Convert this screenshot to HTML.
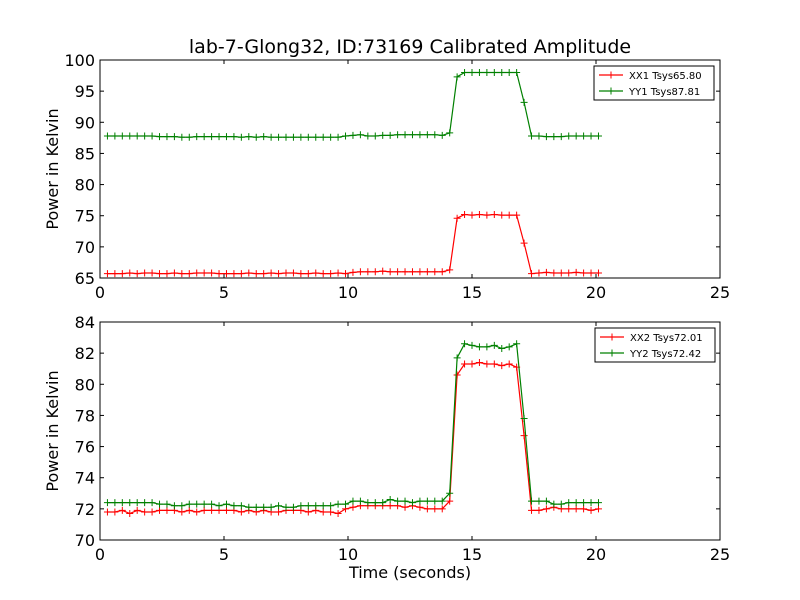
<!DOCTYPE html>
<html><head><meta charset="utf-8"><style>
body{margin:0;background:#fff;}
svg{display:block;font-family:"DejaVu Sans","Liberation Sans",sans-serif;}
</style></head><body>
<svg id="chart" width="800" height="600" viewBox="0 0 800 600">
<rect width="800" height="600" fill="#fff"/>
<text x="410" y="53" font-size="19" text-anchor="middle">lab-7-Glong32, ID:73169 Calibrated Amplitude</text>
<g id="top"></g>
<g id="bot"></g>
<text x="410" y="578" font-size="16" text-anchor="middle">Time (seconds)</text>
</svg>
<script>
const xx1=[65.7,65.7,65.7,65.8,65.7,65.8,65.8,65.7,65.7,65.8,65.7,65.7,65.8,65.8,65.8,65.7,65.7,65.7,65.7,65.8,65.7,65.7,65.8,65.7,65.8,65.8,65.7,65.7,65.8,65.7,65.7,65.8,65.7,65.9,66.0,66.0,66.0,66.1,66.0,66.0,66.0,66.0,66.0,66.0,66.0,66.0,66.3,74.6,75.2,75.1,75.2,75.1,75.2,75.1,75.1,75.1,70.6,65.7,65.8,65.9,65.8,65.8,65.8,65.9,65.8,65.8,65.8];
const yy1=[87.8,87.8,87.8,87.8,87.8,87.8,87.8,87.7,87.7,87.7,87.6,87.6,87.7,87.7,87.7,87.7,87.7,87.7,87.6,87.7,87.6,87.7,87.6,87.6,87.6,87.6,87.6,87.6,87.6,87.6,87.6,87.6,87.8,87.9,88.0,87.8,87.8,87.9,87.9,88.0,88.0,88.0,88.0,88.0,88.0,87.9,88.3,97.3,98.0,98.0,98.0,98.0,98.0,98.0,98.0,98.0,93.2,87.8,87.8,87.7,87.7,87.7,87.8,87.8,87.8,87.8,87.8];
const xx2=[71.8,71.8,71.9,71.7,71.9,71.8,71.8,71.9,71.9,71.9,71.8,71.9,71.8,71.9,71.9,71.9,71.9,71.9,71.8,71.9,71.8,71.9,71.8,71.8,71.9,71.9,71.9,71.8,71.9,71.8,71.8,71.7,72.0,72.1,72.2,72.2,72.2,72.2,72.2,72.2,72.1,72.2,72.1,72.0,72.0,72.0,72.5,80.6,81.3,81.3,81.4,81.3,81.3,81.2,81.3,81.1,76.7,71.9,71.9,72.0,72.1,72.0,72.0,72.0,72.0,71.9,72.0];
const yy2=[72.4,72.4,72.4,72.4,72.4,72.4,72.4,72.3,72.3,72.2,72.2,72.3,72.3,72.3,72.3,72.2,72.3,72.2,72.2,72.1,72.1,72.1,72.1,72.2,72.1,72.1,72.2,72.2,72.2,72.2,72.2,72.3,72.3,72.5,72.5,72.4,72.4,72.4,72.6,72.5,72.5,72.4,72.5,72.5,72.5,72.5,73.0,81.7,82.6,82.5,82.4,82.4,82.5,82.3,82.4,82.6,77.8,72.5,72.5,72.5,72.3,72.3,72.4,72.4,72.4,72.4,72.4];
const xTicks=[0,5,10,15,20,25];
const topTicks=[65,70,75,80,85,90,95,100];
const botTicks=[70,72,74,76,78,80,82,84];
const times=xx1.map((_,i)=>+(0.3+0.3*i).toFixed(2));
const NS="http://www.w3.org/2000/svg";
function el(t,a,p){const e=document.createElementNS(NS,t);for(const k in a)e.setAttribute(k,a[k]);p.appendChild(e);return e;}
function panel(g,y0,y1,ymin,ymax,yt,series,legend,lx,ly){
  const x0=100,x1=720;
  const sx=v=>x0+(v/25)*(x1-x0), sy=v=>y1-(v-ymin)/(ymax-ymin)*(y1-y0);
  xTicks.forEach(t=>{const x=sx(t);
    el('line',{x1:x,x2:x,y1:y1,y2:y1-4,stroke:'#000'},g);el('line',{x1:x,x2:x,y1:y0,y2:y0+4,stroke:'#000'},g);
    const tx=el('text',{x:x,y:y1+20,'font-size':16,'text-anchor':'middle'},g);tx.textContent=t;
    
    });
  yt.forEach(t=>{const y=sy(t);
    el('line',{x1:x0,x2:x0+4,y1:y,y2:y,stroke:'#000'},g);el('line',{x1:x1,x2:x1-4,y1:y,y2:y,stroke:'#000'},g);
    const tx=el('text',{x:x0-5,y:y+6,'font-size':16,'text-anchor':'end'},g);tx.textContent=t;
    
    });
  const yl=el('text',{x:0,y:0,'font-size':16,'text-anchor':'middle',transform:`translate(58,${(y0+y1)/2}) rotate(-90)`},g);
  yl.textContent='Power in Kelvin';
  
  
  series.forEach(s=>{
    const pts=s.v.map((v,i)=>sx(times[i]).toFixed(1)+','+sy(v).toFixed(1)).join(' ');
    const pl=el('polyline',{points:pts,fill:'none',stroke:s.c,'stroke-width':1.2},g);
    
    
    s.v.forEach((v,i)=>{const x=sx(times[i]),y=sy(v);
      const m=el('path',{d:`M${x-3.5},${y}h7M${x},${y-3.5}v7`,stroke:s.c,'stroke-width':1},g);
      
      });
  });
  const fr=el('rect',{x:x0,y:y0,width:x1-x0,height:y1-y0,fill:'none',stroke:'#000','stroke-width':1},g);
  
  
  const lg=el('g',{},g);
  
  
  el('rect',{x:lx,y:ly,width:120,height:34,fill:'#fff',stroke:'#000'},lg);
  legend.forEach((l,i)=>{const y=ly+9+i*16;
    el('line',{x1:lx+5,x2:lx+29,y1:y,y2:y,stroke:l.c,'stroke-width':1.2},lg);
    el('path',{d:`M${lx+13.5},${y}h7M${lx+17},${y-3.5}v7`,stroke:l.c},lg);
    const t=el('text',{x:lx+35,y:y+4,'font-size':10},lg);t.textContent=l.t;
    
    });
}
panel(document.getElementById('top'),60,278,65,100,topTicks,
 [{v:xx1,c:'#ff0000',n:'xx1'},{v:yy1,c:'#008000',n:'yy1'}],
 [{t:'XX1 Tsys65.80',c:'#ff0000'},{t:'YY1 Tsys87.81',c:'#008000'}],594,66);
panel(document.getElementById('bot'),322,540,70,84,botTicks,
 [{v:xx2,c:'#ff0000',n:'xx2'},{v:yy2,c:'#008000',n:'yy2'}],
 [{t:'XX2 Tsys72.01',c:'#ff0000'},{t:'YY2 Tsys72.42',c:'#008000'}],595,328);
</script>
</body></html>
